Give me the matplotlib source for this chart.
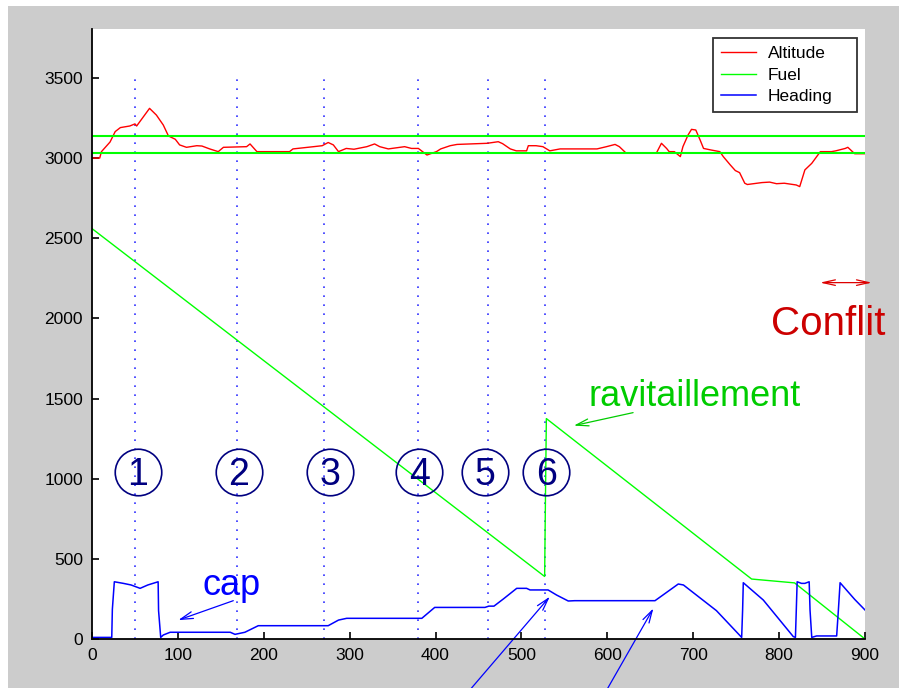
import matplotlib
matplotlib.use("Agg")
import matplotlib.pyplot as plt
from matplotlib.patches import Rectangle

plt.rcParams['font.family'] = ['Liberation Sans', 'DejaVu Sans']

# ---------------- data ----------------
alt_x = [0, 9, 11, 21, 27, 33, 44, 50, 52, 67, 75, 83, 89, 97, 102, 110, 122, 128, 137, 147,
         153, 180, 184, 192, 201, 230, 234, 258, 268, 275, 281, 287, 296, 305, 320, 329, 335,
         345, 364, 372, 380, 390, 401, 406, 417, 425, 440, 460, 473, 478, 487, 494, 506, 508,
         517, 525, 533, 545, 588, 599, 609, 614, 622, 657, 663, 669, 672, 678, 685, 688, 694,
         698, 703, 708, 712, 721, 731, 735, 743, 749, 754, 760, 763, 780, 789, 797, 806, 820,
         824, 830, 838, 848, 861, 866, 877, 880, 888, 900]
alt_y = [3000, 3000, 3040, 3100, 3165, 3190, 3200, 3213, 3200, 3310, 3268, 3206, 3138, 3117,
         3082, 3067, 3077, 3075, 3057, 3040, 3067, 3071, 3088, 3040, 3040, 3040, 3057, 3071,
         3077, 3097, 3082, 3040, 3060, 3055, 3071, 3088, 3071, 3057, 3071, 3060, 3060, 3019,
         3040, 3057, 3077, 3085, 3088, 3092, 3102, 3090, 3057, 3045, 3045, 3077, 3077, 3071,
         3045, 3057, 3057, 3071, 3085, 3071, 3030, 3030, 3092, 3060, 3040, 3040, 3009, 3071,
         3144, 3179, 3175, 3113, 3060, 3050, 3040, 3009, 2958, 2922, 2909, 2843, 2835, 2847,
         2850, 2840, 2843, 2832, 2822, 2926, 2967, 3040, 3040, 3045, 3060, 3067, 3027, 3027]

fuel_x = [0, 527, 528, 529, 768, 818, 900]
fuel_y = [2560, 390, 900, 1375, 374, 350, 0]

limit_levels = [3140, 3030]

head_x = [0, 23, 23.7, 26, 36.5, 45.5, 56, 65, 77, 77.5, 80, 83, 91, 161, 166.5, 178, 193.6,
          275, 287, 296.5, 384, 399, 457.5, 462, 468, 479, 494.5, 506, 510, 531, 541, 554.5,
          562, 655.5, 661, 682.6, 688.6, 727, 756.4, 757.5, 758.3, 781.6, 816.5, 819, 820, 821,
          826, 830, 835, 836, 838, 843.6, 867, 869, 871, 888, 900]
head_y = [10, 10, 185, 357, 347, 337, 316, 337, 357, 177, 10, 25, 42, 42, 29, 42, 83, 83, 118,
          129, 129, 197, 197, 205, 205, 250, 316, 316, 306, 306, 274, 237, 239, 239, 260, 343,
          337, 177, 10, 180, 351, 243, 15, 10, 180, 357, 347, 347, 357, 180, 10, 19, 19, 180,
          351, 247, 181]

event_x = [50, 169, 270, 379, 461, 528]
event_labels = ['1', '2', '3', '4', '5', '6']
circle_x = [53, 171, 277, 381, 458, 529]
circle_y = 1044
digit_base_y = 961

x_ticks = [0, 100, 200, 300, 400, 500, 600, 700, 800, 900]
y_ticks = [0, 500, 1000, 1500, 2000, 2500, 3000, 3500]

# ---------------- figure ----------------
W, H = 899, 688
fig = plt.figure(figsize=(W / 100, H / 100), dpi=100, facecolor='white')
fig.patches.append(Rectangle((8 / W, 0), 1 - 8 / W, (H - 6) / H, transform=fig.transFigure,
                             facecolor='#cccccc', edgecolor='none', zorder=-10))

ax = fig.add_axes([92 / W, 49 / H, 773 / W, 610 / H])
ax.set_facecolor('white')

ax.plot(alt_x, alt_y, color='#ff0000', lw=1.0, label='Altitude', zorder=3)
ax.plot(fuel_x, fuel_y, color='#00ff00', lw=1.0, label='Fuel', zorder=3)
ax.plot(head_x, head_y, color='#0000ff', lw=1.1, label='Heading', zorder=3)
for lv in limit_levels:
    ax.axhline(lv, color='#00ff00', lw=1.5, zorder=4)

for xv in event_x:
    ax.plot([xv, xv], [0, 3500], color='#3030ff', lw=1.2, linestyle=(0, (1, 4.4)), zorder=2)

for cx, lab in zip(circle_x, event_labels):
    ax.plot([cx], [circle_y], marker='o', ms=33.5, mfc='none', mec='#000080', mew=1.2, zorder=5)
    ax.text(cx, digit_base_y, lab, color='#000080', fontsize=27, ha='center', va='baseline',
            zorder=6)

ax.set_xlim(0, 900)
ax.set_ylim(0, 3805)
ax.set_xticks(x_ticks)
ax.set_yticks(y_ticks)
ax.tick_params(direction='in', length=5, width=1.2, labelsize=12.5, pad=6.5,
               colors='black')
for s in ['top', 'right']:
    ax.spines[s].set_visible(False)
for s in ['left', 'bottom']:
    ax.spines[s].set_linewidth(1.3)
    ax.spines[s].set_color('black')
    ax.spines[s].set_zorder(7)

leg = ax.legend(loc='upper right', bbox_to_anchor=(0.803, 0.5, 0.1863, 0.4848), mode='expand',
                borderaxespad=0, fontsize=12.5, frameon=True, fancybox=False,
                edgecolor='black', handlelength=2.05, handletextpad=0.65, labelspacing=0.36,
                borderpad=0.46)
leg.get_frame().set_linewidth(1.3)

# annotations
ax.text(162, (639 - 595) / 0.1603, 'cap', color='#0000ff', fontsize=26, ha='center',
        va='baseline')
ax.annotate('', xy=(100.5, 118), xytext=(164.5, 239),
            arrowprops=dict(arrowstyle='->,head_length=0.9,head_width=0.25', color='#0000ff',
                            lw=0.9, shrinkA=0, shrinkB=0))

ax.text(702, 1453, 'ravitaillement', color='#00cc00', fontsize=26, ha='center',
        va='baseline')
ax.annotate('', xy=(561, 1331), xytext=(630, 1412),
            arrowprops=dict(arrowstyle='->,head_length=0.9,head_width=0.25', color='#00cc00',
                            lw=0.9, shrinkA=0, shrinkB=0))

ax.text(857, 1896, 'Conflit', color='#cc0000', fontsize=29, ha='center', va='baseline',
        clip_on=False)
ax.annotate('', xy=(847.6, 2223), xytext=(908, 2223), annotation_clip=False,
            arrowprops=dict(arrowstyle='<->,head_length=0.9,head_width=0.2', color='#dd0000',
                            lw=0.9, shrinkA=0, shrinkB=0))

ax.annotate('', xy=(533, 264), xytext=(438, -330), annotation_clip=False,
            arrowprops=dict(arrowstyle='->,head_length=0.9,head_width=0.25', color='#0000ff',
                            lw=0.9, shrinkA=0, shrinkB=0))
ax.annotate('', xy=(653.6, 191), xytext=(598, -330), annotation_clip=False,
            arrowprops=dict(arrowstyle='->,head_length=0.9,head_width=0.25', color='#0000ff',
                            lw=0.9, shrinkA=0, shrinkB=0))

fig.savefig('out.png', dpi=100, facecolor=fig.get_facecolor())
